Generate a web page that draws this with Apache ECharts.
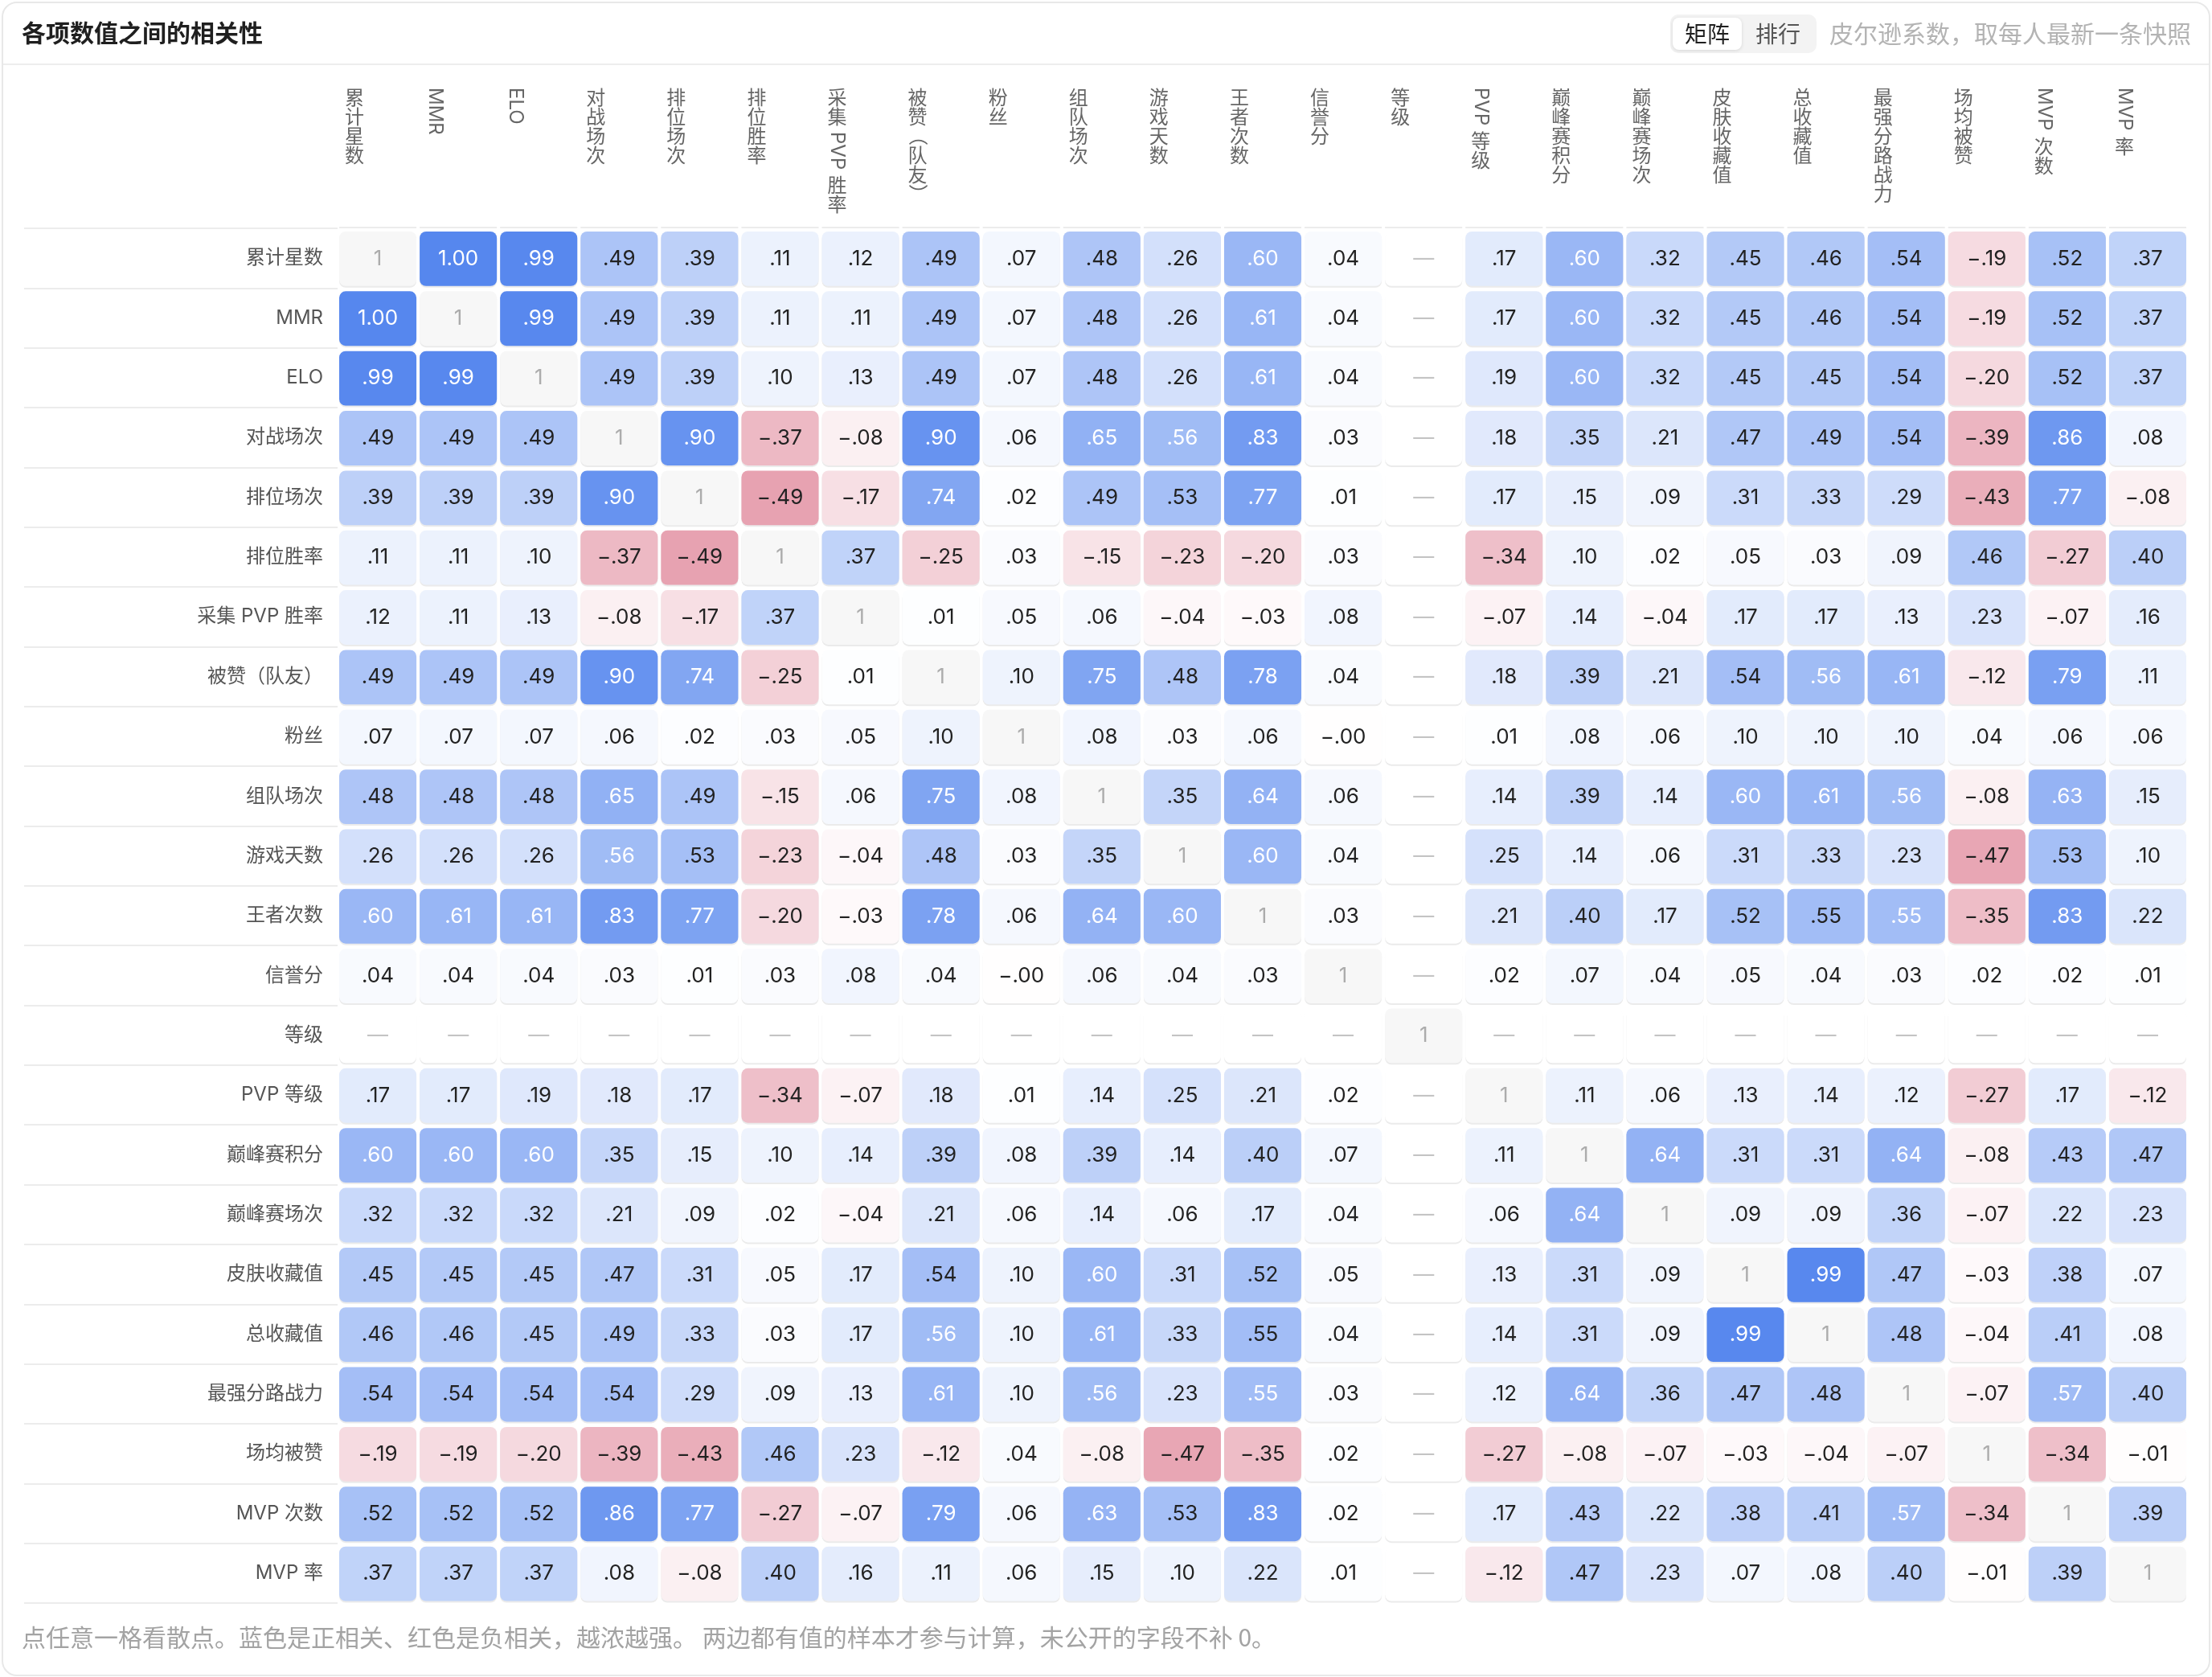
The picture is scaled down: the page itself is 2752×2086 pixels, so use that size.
<!DOCTYPE html>
<html>
<head>
<meta charset="utf-8">
<script src="https://cdn.jsdelivr.net/npm/echarts@6/dist/echarts.min.js"></script>
<style>
  html, body { margin: 0; padding: 0; background: #fff; }
  #chart { width: 2752px; height: 2086px; }
</style>
</head>
<body>
<div id="chart"></div>
<script>
// 字段（行列同序）
const fields = ['累计星数', 'MMR', 'ELO', '对战场次', '排位场次', '排位胜率', '采集 PVP 胜率', '被赞（队友）', '粉丝', '组队场次', '游戏天数', '王者次数', '信誉分', '等级', 'PVP 等级', '巅峰赛积分', '巅峰赛场次', '皮肤收藏值', '总收藏值', '最强分路战力', '场均被赞', 'MVP 次数', 'MVP 率'];

// 皮尔逊相关系数矩阵，null = 无法计算（等级）
const corr = [
  [1, 0.998, 0.99, 0.49, 0.39, 0.11, 0.12, 0.49, 0.07, 0.48, 0.26, 0.60, 0.04, null, 0.17, 0.60, 0.32, 0.45, 0.46, 0.54, -0.19, 0.52, 0.37],
  [0.998, 1, 0.99, 0.49, 0.39, 0.11, 0.11, 0.49, 0.07, 0.48, 0.26, 0.61, 0.04, null, 0.17, 0.60, 0.32, 0.45, 0.46, 0.54, -0.19, 0.52, 0.37],
  [0.99, 0.99, 1, 0.49, 0.39, 0.10, 0.13, 0.49, 0.07, 0.48, 0.26, 0.61, 0.04, null, 0.19, 0.60, 0.32, 0.45, 0.45, 0.54, -0.20, 0.52, 0.37],
  [0.49, 0.49, 0.49, 1, 0.90, -0.37, -0.08, 0.90, 0.06, 0.65, 0.56, 0.83, 0.03, null, 0.18, 0.35, 0.21, 0.47, 0.49, 0.54, -0.39, 0.86, 0.08],
  [0.39, 0.39, 0.39, 0.90, 1, -0.49, -0.17, 0.74, 0.02, 0.49, 0.53, 0.77, 0.01, null, 0.17, 0.15, 0.09, 0.31, 0.33, 0.29, -0.43, 0.77, -0.08],
  [0.11, 0.11, 0.10, -0.37, -0.49, 1, 0.37, -0.25, 0.03, -0.15, -0.23, -0.20, 0.03, null, -0.34, 0.10, 0.02, 0.05, 0.03, 0.09, 0.46, -0.27, 0.40],
  [0.12, 0.11, 0.13, -0.08, -0.17, 0.37, 1, 0.01, 0.05, 0.06, -0.04, -0.03, 0.08, null, -0.07, 0.14, -0.04, 0.17, 0.17, 0.13, 0.23, -0.07, 0.16],
  [0.49, 0.49, 0.49, 0.90, 0.74, -0.25, 0.01, 1, 0.10, 0.75, 0.48, 0.78, 0.04, null, 0.18, 0.39, 0.21, 0.54, 0.56, 0.61, -0.12, 0.79, 0.11],
  [0.07, 0.07, 0.07, 0.06, 0.02, 0.03, 0.05, 0.10, 1, 0.08, 0.03, 0.06, -0.004, null, 0.01, 0.08, 0.06, 0.10, 0.10, 0.10, 0.04, 0.06, 0.06],
  [0.48, 0.48, 0.48, 0.65, 0.49, -0.15, 0.06, 0.75, 0.08, 1, 0.35, 0.64, 0.06, null, 0.14, 0.39, 0.14, 0.60, 0.61, 0.56, -0.08, 0.63, 0.15],
  [0.26, 0.26, 0.26, 0.56, 0.53, -0.23, -0.04, 0.48, 0.03, 0.35, 1, 0.60, 0.04, null, 0.25, 0.14, 0.06, 0.31, 0.33, 0.23, -0.47, 0.53, 0.10],
  [0.60, 0.61, 0.61, 0.83, 0.77, -0.20, -0.03, 0.78, 0.06, 0.64, 0.60, 1, 0.03, null, 0.21, 0.40, 0.17, 0.52, 0.548, 0.553, -0.35, 0.83, 0.22],
  [0.04, 0.04, 0.04, 0.03, 0.01, 0.03, 0.08, 0.04, -0.004, 0.06, 0.04, 0.03, 1, null, 0.02, 0.07, 0.04, 0.05, 0.04, 0.03, 0.02, 0.02, 0.01],
  [null, null, null, null, null, null, null, null, null, null, null, null, null, 1, null, null, null, null, null, null, null, null, null],
  [0.17, 0.17, 0.19, 0.18, 0.17, -0.34, -0.07, 0.18, 0.01, 0.14, 0.25, 0.21, 0.02, null, 1, 0.11, 0.06, 0.13, 0.14, 0.12, -0.27, 0.17, -0.12],
  [0.60, 0.60, 0.60, 0.35, 0.15, 0.10, 0.14, 0.39, 0.08, 0.39, 0.14, 0.40, 0.07, null, 0.11, 1, 0.64, 0.31, 0.31, 0.64, -0.08, 0.43, 0.47],
  [0.32, 0.32, 0.32, 0.21, 0.09, 0.02, -0.04, 0.21, 0.06, 0.14, 0.06, 0.17, 0.04, null, 0.06, 0.64, 1, 0.09, 0.09, 0.36, -0.07, 0.22, 0.23],
  [0.45, 0.45, 0.45, 0.47, 0.31, 0.05, 0.17, 0.54, 0.10, 0.60, 0.31, 0.52, 0.05, null, 0.13, 0.31, 0.09, 1, 0.99, 0.47, -0.03, 0.38, 0.07],
  [0.46, 0.46, 0.45, 0.49, 0.33, 0.03, 0.17, 0.56, 0.10, 0.61, 0.33, 0.548, 0.04, null, 0.14, 0.31, 0.09, 0.99, 1, 0.48, -0.04, 0.41, 0.08],
  [0.54, 0.54, 0.54, 0.54, 0.29, 0.09, 0.13, 0.61, 0.10, 0.56, 0.23, 0.553, 0.03, null, 0.12, 0.64, 0.36, 0.47, 0.48, 1, -0.07, 0.57, 0.40],
  [-0.19, -0.19, -0.20, -0.39, -0.43, 0.46, 0.23, -0.12, 0.04, -0.08, -0.47, -0.35, 0.02, null, -0.27, -0.08, -0.07, -0.03, -0.04, -0.07, 1, -0.34, -0.01],
  [0.52, 0.52, 0.52, 0.86, 0.77, -0.27, -0.07, 0.79, 0.06, 0.63, 0.53, 0.83, 0.02, null, 0.17, 0.43, 0.22, 0.38, 0.41, 0.57, -0.34, 1, 0.39],
  [0.37, 0.37, 0.37, 0.08, -0.08, 0.40, 0.16, 0.11, 0.06, 0.15, 0.10, 0.22, 0.01, null, -0.12, 0.47, 0.23, 0.07, 0.08, 0.40, -0.01, 0.39, 1]
];

const FONT = 'Inter, "Noto Sans CJK SC", sans-serif';
const CJK = '"Noto Sans CJK SC", sans-serif';
const GRID_TOP = 284;

// [列, 行, 值, 类型] 类型: 0 普通 1 对角 2 空
const cells = [];
corr.forEach((row, r) => {
  row.forEach((v, c) => {
    const kind = r === c ? 1 : (v === null ? 2 : 0);
    cells.push([c, r, v === null ? 0 : v, kind]);
  });
});

function fmt(v) {
  const s = Math.abs(v).toFixed(2);
  return (v < 0 ? '−' : '') + (s[0] === '0' ? s.slice(1) : s);
}

function cellColor(v) {
  const a = Math.min(Math.abs(v), 1);
  const base = v >= 0 ? [86, 135, 238] : [206, 66, 95];
  const c = base.map(b => Math.round(255 - a * (255 - b)));
  return 'rgb(' + c.join(',') + ')';
}

function renderCell(params, api) {
  const v = api.value(2), kind = api.value(3);
  const p = api.coord([api.value(0), api.value(1)]);
  const size = api.size([1, 1]);
  const x = p[0] - size[0] / 2 + 2;
  const y = p[1] - size[1] / 2 + 4;
  const w = size[0] - 4, h = size[1] - 6.5;
  let fill, text, color;
  if (kind === 1) { fill = '#f7f7f7'; text = '1'; color = '#acacac'; }
  else if (kind === 2) { fill = '#ffffff'; text = '—'; color = '#c4c4c4'; }
  else { fill = cellColor(v); text = fmt(v); color = v > 0.55 ? '#ffffff' : '#222222'; }
  return {
    type: 'group',
    children: [
      { type: 'rect', shape: { x: x, y: y + 2, width: w, height: h, r: 8 }, style: { fill: '#ebebeb' } },
      { type: 'rect', shape: { x: x, y: y, width: w, height: h, r: 8 }, style: { fill: fill } },
      { type: 'text', x: p[0], y: y + h / 2, style: { text: text, fill: color, font: '26px ' + FONT, align: 'center', verticalAlign: 'middle' } }
    ]
  };
}

const measureCtx = document.createElement('canvas').getContext('2d');
measureCtx.font = '24px ' + FONT;

function renderHeader(params, api) {
  const i = api.value(0);
  const p = api.coord([i, 0]);
  const size = api.size([1, 1]);
  const left = p[0] - size[0] / 2;
  const cx = left + 21;
  const children = [];
  let y = 109;
  const runs = fields[i].match(/[A-Za-z0-9]+|\s|./g);
  runs.forEach(run => {
    if (/^\s$/.test(run)) { y += 7; return; }
    if (/^[A-Za-z0-9（）()]+$/.test(run)) {
      children.push({ type: 'text', x: cx, y: y, rotation: -Math.PI / 2,
        style: { text: run, font: '24px ' + FONT, fill: '#666', align: 'left', verticalAlign: 'middle' } });
      y += measureCtx.measureText(run).width;
      return;
    }
    children.push({ type: 'text', x: cx, y: y + 12,
      style: { text: run, font: '24px ' + CJK, fill: '#666', align: 'center', verticalAlign: 'middle' } });
    y += 24;
  });
  children.push({ type: 'line', shape: { x1: left + 2, y1: GRID_TOP - 1, x2: left + size[0] - 2, y2: GRID_TOP - 1 },
    style: { stroke: '#ececec', lineWidth: 2 } });
  return { type: 'group', children: children };
}

const chart = echarts.init(document.getElementById('chart'), null, { renderer: 'canvas' });
chart.setOption({
  backgroundColor: '#ffffff',
  animation: false,
  grid: { left: 420, right: 30, top: GRID_TOP, bottom: 92 },
  xAxis: {
    type: 'category', data: fields, position: 'top',
    axisLine: { show: false }, axisTick: { show: false }, axisLabel: { show: false }, splitLine: { show: false }
  },
  yAxis: {
    type: 'category', data: fields, inverse: true,
    axisLine: { show: false },
    axisTick: { show: true, interval: 0, length: 390, lineStyle: { color: '#ececec', width: 2 } },
    axisLabel: { interval: 0, margin: 18, fontSize: 24, color: '#555', fontFamily: FONT },
    splitLine: { show: false }
  },
  series: [
    { type: 'custom', coordinateSystem: 'cartesian2d', data: cells, encode: { x: 0, y: 1 }, renderItem: renderCell, silent: true },
    { type: 'custom', coordinateSystem: 'cartesian2d', data: fields.map((f, i) => [i, 0]), encode: { x: 0, y: 1 }, renderItem: renderHeader, silent: true, z: 3 }
  ],
  graphic: [
    { type: 'rect', shape: { x: 3, y: 3, width: 2746, height: 2081, r: 18 }, style: { fill: 'none', stroke: '#e8e8e8', lineWidth: 2 }, z: 100 },
    { type: 'line', shape: { x1: 4, y1: 80, x2: 2748, y2: 80 }, style: { stroke: '#ededed', lineWidth: 2 } },
    { type: 'text', x: 27, y: 41, style: { text: '各项数值之间的相关性', font: 'bold 30px ' + CJK, fill: '#1f1f1f', verticalAlign: 'middle' } },
    { type: 'rect', shape: { x: 2078, y: 18, width: 182, height: 48, r: 10 }, style: { fill: '#f3f3f3' } },
    { type: 'rect', shape: { x: 2081, y: 22, width: 86, height: 40, r: 8 }, style: { fill: '#ffffff', shadowBlur: 4, shadowColor: 'rgba(0,0,0,0.12)', shadowOffsetY: 1 } },
    { type: 'text', x: 2124, y: 42, style: { text: '矩阵', font: '28px ' + CJK, fill: '#1f1f1f', align: 'center', verticalAlign: 'middle' } },
    { type: 'text', x: 2212, y: 42, style: { text: '排行', font: '28px ' + CJK, fill: '#555', align: 'center', verticalAlign: 'middle' } },
    { type: 'text', x: 2726, y: 42, style: { text: '皮尔逊系数，取每人最新一条快照', font: '30px ' + CJK, fill: '#b3b3b3', align: 'right', verticalAlign: 'middle' } },
    { type: 'text', x: 27, y: 2037, style: { text: '点任意一格看散点。蓝色是正相关、红色是负相关，越浓越强。 两边都有值的样本才参与计算，未公开的字段不补 0。', font: '30px ' + CJK, fill: '#a3a3a3', verticalAlign: 'middle' } }
  ]
});
</script>
</body>
</html>
